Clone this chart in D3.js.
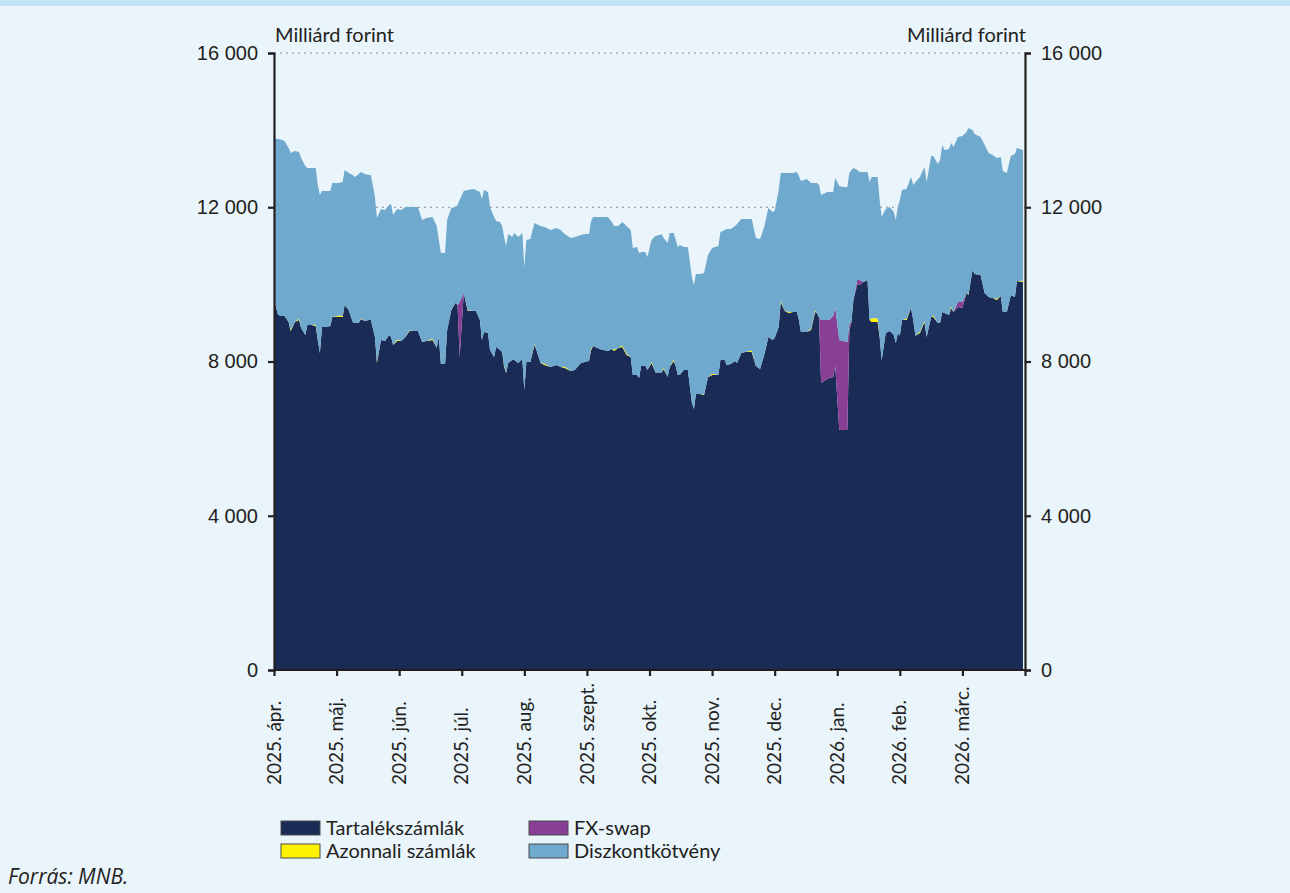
<!DOCTYPE html>
<html>
<head>
<meta charset="utf-8">
<script src="https://cdn.jsdelivr.net/npm/d3@7"></script>
<style>
  body { margin: 0; background: #e9f4fb; }
  svg { display: block; font-family: Lato, "Open Sans", sans-serif; }
</style>
</head>
<body>
<svg id="chart" width="1290" height="893"></svg>
<script>
// napi adatok (milliárd forint)
const dates = [
  "2025-04-01","2025-04-03","2025-04-05","2025-04-06","2025-04-08","2025-04-09","2025-04-11","2025-04-13","2025-04-14","2025-04-16",
  "2025-04-17","2025-04-19","2025-04-21","2025-04-22","2025-04-23","2025-04-24","2025-04-26","2025-04-28","2025-04-29","2025-05-02",
  "2025-05-04","2025-05-05","2025-05-07","2025-05-09","2025-05-10","2025-05-12","2025-05-13","2025-05-15","2025-05-17","2025-05-18",
  "2025-05-20","2025-05-21","2025-05-23","2025-05-25","2025-05-27","2025-05-28","2025-05-29","2025-05-31","2025-06-02","2025-06-04",
  "2025-06-06","2025-06-08","2025-06-10","2025-06-12","2025-06-14","2025-06-17","2025-06-19","2025-06-20","2025-06-21","2025-06-23",
  "2025-06-24","2025-06-26","2025-06-28","2025-06-29","2025-06-30","2025-07-02","2025-07-04","2025-07-07","2025-07-08","2025-07-10",
  "2025-07-11","2025-07-12","2025-07-14","2025-07-15","2025-07-17","2025-07-18","2025-07-20","2025-07-21","2025-07-22","2025-07-23",
  "2025-07-24","2025-07-26","2025-07-27","2025-07-29","2025-07-31","2025-08-01","2025-08-02","2025-08-04","2025-08-06","2025-08-07",
  "2025-08-09","2025-08-11","2025-08-14","2025-08-17","2025-08-19","2025-08-21","2025-08-24","2025-08-26","2025-08-29","2025-08-31",
  "2025-09-02","2025-09-03","2025-09-04","2025-09-07","2025-09-11","2025-09-13","2025-09-14","2025-09-16","2025-09-18","2025-09-20",
  "2025-09-22","2025-09-23","2025-09-25","2025-09-26","2025-09-27","2025-09-29","2025-09-30","2025-10-02","2025-10-04","2025-10-06",
  "2025-10-07","2025-10-08","2025-10-10","2025-10-11","2025-10-13","2025-10-14","2025-10-15","2025-10-16","2025-10-18","2025-10-20",
  "2025-10-22","2025-10-23","2025-10-24","2025-10-26","2025-10-28","2025-10-29","2025-10-30","2025-11-01","2025-11-04","2025-11-05",
  "2025-11-07","2025-11-08","2025-11-10","2025-11-12","2025-11-13","2025-11-15","2025-11-17","2025-11-20","2025-11-22","2025-11-24",
  "2025-11-26","2025-11-28","2025-11-30","2025-12-01","2025-12-03","2025-12-04","2025-12-06","2025-12-08","2025-12-10","2025-12-12",
  "2025-12-13","2025-12-14","2025-12-17","2025-12-19","2025-12-21","2025-12-22","2025-12-23","2025-12-24","2025-12-27","2025-12-28",
  "2025-12-30","2025-12-31","2026-01-02","2026-01-04","2026-01-06","2026-01-07","2026-01-08","2026-01-09","2026-01-11","2026-01-12",
  "2026-01-14","2026-01-16","2026-01-17","2026-01-18","2026-01-21","2026-01-22","2026-01-23","2026-01-25","2026-01-27","2026-01-29",
  "2026-01-30","2026-01-31","2026-02-01","2026-02-02","2026-02-04","2026-02-06","2026-02-07","2026-02-08","2026-02-10","2026-02-12",
  "2026-02-13","2026-02-15","2026-02-16","2026-02-18","2026-02-19","2026-02-20","2026-02-21","2026-02-23","2026-02-24","2026-02-25",
  "2026-02-27","2026-03-01","2026-03-03","2026-03-04","2026-03-06","2026-03-07","2026-03-10","2026-03-12","2026-03-14","2026-03-16",
  "2026-03-18","2026-03-20","2026-03-21","2026-03-23","2026-03-25","2026-03-27","2026-03-28","2026-03-31"
];

const tartalek = [
  9595,9206,9180,9180,9024,8791,9024,9076,8869,8687,
  8947,8947,8921,8558,8220,8895,8895,8921,9154,9154,
  9154,9465,9336,9024,8998,8998,9102,9050,9076,9076,
  8635,7961,8558,8532,8687,8635,8428,8532,8532,8635,
  8791,8791,8791,8506,8532,8558,8350,8635,7935,7935,
  8817,9336,9517,9465,8117,9776,9310,9310,9310,9076,
  8558,8765,8739,8298,8117,8376,8298,8246,7857,7702,
  7961,8039,8039,7961,8065,7261,7987,7987,8428,8298,
  7961,7909,7857,7909,7857,7831,7754,7780,7961,7987,
  8013,8298,8402,8324,8272,8324,8272,8350,8376,8168,
  8117,7650,7650,7572,7883,7883,7780,7961,7717,7717,
  7717,7806,7598,7857,8013,7883,7650,7650,7780,7780,
  6921,6768,7157,7157,7131,7365,7598,7650,7650,8039,
  8039,7909,7935,8013,7961,8220,8246,8246,7883,7806,
  8168,8635,8558,8609,8895,9543,9310,9258,9284,9284,
  9076,8765,8765,8817,9284,9258,9128,7443,7546,7572,
  7598,7883,6224,6224,6224,8817,9024,9595,10010,9984,
  10062,10113,9076,9024,9024,8635,8039,8739,8791,8687,
  8480,8739,8665,9076,9076,9387,9076,8665,8739,9024,
  8635,9154,9154,8998,8998,9284,9258,9206,9387,9284,
  9413,9387,9776,9725,10373,10269,10243,9776,9673,9647,
  9595,9699,9284,9284,9725,9673,10087,10062
];

const azonnali = [
  0,0,0,0,0,30,0,30,0,0,
  0,0,30,0,0,0,0,0,0,30,
  30,0,0,0,0,0,20,0,0,0,
  0,30,0,0,0,0,0,30,0,0,
  20,0,0,0,0,30,0,0,0,0,
  0,0,0,0,0,0,20,0,0,0,
  0,0,0,0,0,0,0,0,30,0,
  0,0,0,0,0,0,0,0,30,0,
  0,30,0,0,0,30,0,0,0,0,
  0,40,0,0,0,0,40,0,40,30,
  0,0,0,0,0,0,0,30,0,0,
  0,30,0,0,40,0,0,0,0,0,
  0,0,0,0,20,0,0,30,0,0,
  0,0,0,0,0,0,0,40,0,0,
  0,0,0,0,0,40,0,30,0,0,
  0,0,0,30,40,0,0,0,0,0,
  0,0,0,0,0,30,0,0,0,0,
  0,0,0,100,100,0,0,0,0,0,
  0,0,0,0,30,0,0,0,30,30,
  0,0,40,0,0,0,0,0,40,0,
  0,0,0,20,0,0,0,0,0,0,
  30,0,0,0,0,0,0,30
];

const fxswap = [
  0,0,0,0,0,0,0,0,0,0,
  0,0,0,0,0,0,0,0,0,0,
  20,0,0,0,0,0,0,0,0,0,
  0,0,0,0,0,0,0,0,0,0,
  0,0,0,0,0,0,0,0,0,0,
  0,0,0,0,1426,0,0,0,0,0,
  0,0,0,0,0,0,0,0,0,0,
  0,0,0,0,0,0,0,0,0,0,
  0,0,0,0,0,0,0,0,0,0,
  0,0,0,0,0,0,0,0,0,0,
  0,0,0,0,0,0,0,0,0,0,
  0,0,0,0,0,0,0,0,0,0,
  0,0,0,0,0,0,0,0,0,0,
  0,0,0,0,0,0,0,0,0,0,
  0,0,0,0,0,0,0,0,0,0,
  0,0,0,0,0,0,0,1633,1530,1504,
  1582,1530,2334,2308,2282,130,0,0,130,130,
  0,0,0,0,0,0,0,0,0,0,
  0,0,0,0,0,0,0,0,0,0,
  0,0,0,0,0,0,0,0,0,0,
  130,156,0,0,0,0,0,0,0,0,
  0,0,0,0,0,0,0,0
];

const diszkont = [
  4175,4564,4564,4538,4513,4586,4435,4327,4408,4383,
  4071,4071,4067,4019,4098,3526,3526,3500,3475,3445,
  3451,3501,3552,3812,3787,3864,3792,3812,3760,3760,
  3631,3730,3397,3397,3371,3449,3371,3393,3397,3371,
  3195,3215,3215,3164,3189,3159,3164,2516,2879,2879,
  2853,2645,2489,2593,2645,2645,3117,3163,3137,3319,
  3656,3682,3656,3708,3630,3268,3320,3268,3342,3293,
  3345,3190,3293,3268,3267,3189,3164,3190,3133,3268,
  3553,3549,3553,3553,3553,3445,3449,3449,3319,3319,
  3293,3306,3345,3423,3475,3294,3202,3164,3202,3316,
  3293,3293,3319,3242,2957,2957,2930,3160,3537,3563,
  3589,3367,3475,3475,3279,3268,3319,3371,3189,3189,
  3270,3216,3112,3112,3144,3163,3164,3263,3345,3319,
  3371,3527,3501,3501,3605,3475,3449,3409,3320,3371,
  3320,3346,3319,3294,3552,3305,3578,3600,3604,3630,
  3734,3916,3968,3782,3305,3371,3449,3242,3319,3319,
  3215,3346,3993,3993,4019,3911,3942,3423,2826,2800,
  2852,2801,3579,3661,3661,3553,3708,3216,3215,3190,
  3190,3267,3523,3371,3367,3398,3501,3990,4016,3990,
  4020,4175,4135,4124,4227,4330,4227,4305,4239,4278,
  4279,4305,4175,4310,3630,3631,3579,3838,3734,3708,
  3652,3604,3656,3604,3604,3708,3450,3393
];

const monthLabels = ["2025. ápr.","2025. máj.","2025. jún.","2025. júl.","2025. aug.","2025. szept.",
  "2025. okt.","2025. nov.","2025. dec.","2026. jan.","2026. feb.","2026. márc."];
const yTicks = [0, 4000, 8000, 12000, 16000];

const series = [
  {key: "tartalek", name: "Tartalékszámlák", color: "#1a2b55"},
  {key: "azonnali", name: "Azonnali számlák", color: "#fff200"},
  {key: "fxswap", name: "FX-swap", color: "#8a3f96"},
  {key: "diszkont", name: "Diszkontkötvény", color: "#6fa9cd"}
];

const svg = d3.select("#chart");
const plot = {left: 274, right: 1025, top: 53, bottom: 670};
const ink = "#231f20";

// havonta egyenlő szélesség: hónap sorszáma + hónapon belüli rész
function monthPos(s) {
  const [yy, mm, dd] = s.split("-").map(Number);
  const dim = new Date(yy, mm, 0).getDate();
  return (yy - 2025) * 12 + (mm - 4) + (dd - 1) / dim;
}

const rows = dates.map((d, i) => ({
  pos: monthPos(d),
  tartalek: tartalek[i], azonnali: azonnali[i], fxswap: fxswap[i], diszkont: diszkont[i]
}));

const x = d3.scaleLinear().domain([0, 12]).range([plot.left, plot.right]);
const y = d3.scaleLinear().domain([0, 16000]).range([plot.bottom, plot.top]);
const fmt = d3.formatLocale({decimal: ",", thousands: "\u00a0", grouping: [3], currency: ["", ""]}).format(",d");

// háttér
svg.append("rect").attr("width", 1290).attr("height", 893).attr("fill", "#e9f4fb");
svg.append("rect").attr("width", 1290).attr("height", 6).attr("fill", "#bfe3f4");

// rácsvonalak
svg.append("g").selectAll("line")
  .data(yTicks.filter(d => d > 0))
  .enter().append("line")
    .attr("x1", plot.left).attr("x2", plot.right)
    .attr("y1", d => y(d)).attr("y2", d => y(d))
    .attr("stroke", "#8a8f94").attr("stroke-width", 1)
    .attr("stroke-dasharray", "2,4");

// halmozott területek
const stack = d3.stack().keys(series.map(s => s.key));
const layers = stack(rows);
const area = d3.area()
  .x(d => x(d.data.pos))
  .y0(d => y(d[0]))
  .y1(d => y(d[1]));

svg.append("g").selectAll("path")
  .data(layers)
  .enter().append("path")
    .attr("d", area)
    .attr("fill", (d, i) => series[i].color);

// tengelyek
const yLeft = svg.append("g")
  .attr("transform", "translate(" + plot.left + ",0)")
  .call(d3.axisLeft(y).tickValues(yTicks).tickFormat(fmt).tickSize(6).tickPadding(10));
const yRight = svg.append("g")
  .attr("transform", "translate(" + plot.right + ",0)")
  .call(d3.axisRight(y).tickValues(yTicks).tickFormat(fmt).tickSize(6).tickPadding(10));
const xAxis = svg.append("g")
  .attr("transform", "translate(0," + plot.bottom + ")")
  .call(d3.axisBottom(x).tickValues(d3.range(13)).tickFormat("").tickSize(6));

[yLeft, yRight, xAxis].forEach(g => {
  g.select(".domain").attr("stroke", ink).attr("stroke-width", 2.2);
  g.selectAll(".tick line").attr("stroke", ink).attr("stroke-width", 2.2);
  g.selectAll(".tick text").attr("fill", ink).style("font-size", "20px");
});
xAxis.select(".domain").attr("d", "M" + plot.left + ",0H" + plot.right);

// hónapnevek, függőlegesen
svg.append("g").selectAll("text")
  .data(monthLabels)
  .enter().append("text")
    .attr("transform", (d, i) => "translate(" + x(i) + ",785) rotate(-90)")
    .attr("dy", "0.35em")
    .attr("text-anchor", "start")
    .attr("fill", ink)
    .style("font-size", "19px")
    .text(d => d);

// mértékegység
svg.append("text").attr("x", plot.left + 1).attr("y", 42)
  .attr("fill", ink).style("font-size", "20px").text("Milliárd forint");
svg.append("text").attr("x", plot.right + 1).attr("y", 42).attr("text-anchor", "end")
  .attr("fill", ink).style("font-size", "20px").text("Milliárd forint");

// jelmagyarázat
const legendPos = [[281, 821], [281, 844], [529, 821], [529, 844]];
const legend = svg.append("g").selectAll("g")
  .data(series)
  .enter().append("g")
    .attr("transform", (d, i) => "translate(" + legendPos[i][0] + "," + legendPos[i][1] + ")");
legend.append("rect")
  .attr("width", 39).attr("height", 14)
  .attr("fill", d => d.color)
  .attr("stroke", "#4a4a4a").attr("stroke-width", 1);
legend.append("text")
  .attr("x", 45).attr("y", 7).attr("dy", "0.35em")
  .attr("fill", ink).style("font-size", "20px")
  .text(d => d.name);

// forrás
svg.append("text").attr("x", 8).attr("y", 884)
  .attr("fill", ink).style("font-family", "'Open Sans', sans-serif")
  .style("font-size", "21px").style("font-style", "italic")
  .text("Forrás: MNB.");
</script>
</body>
</html>
